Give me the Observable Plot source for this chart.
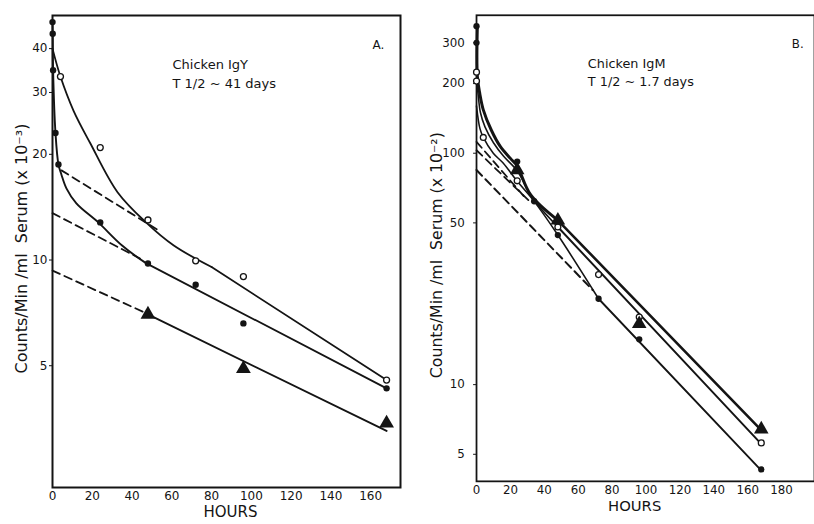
<!DOCTYPE html>
<html><head><meta charset="utf-8">
<script src="https://cdn.jsdelivr.net/npm/d3@7"></script>
<script src="https://cdn.jsdelivr.net/npm/@observablehq/plot@0.6"></script>
<style>
html,body{margin:0;padding:0;background:#fff;overflow:hidden;}
#wrap{position:relative;width:814px;height:524px;overflow:hidden;background:#fff;}
#a{position:absolute;left:0;top:0;}
#b{position:absolute;left:410px;top:0;}
</style></head><body><div id="wrap"><div id="a"></div><div id="b"></div></div>
<script>
// ---------- Panel A: Chicken IgY (counts/min/ml serum x 10^-3) ----------
const xTicksA = [0, 20, 40, 60, 80, 100, 120, 140, 160];
const yTicksA = [5, 10, 20, 30, 40];

const aOpenHours = [4, 24, 48, 72, 96, 168];
const aOpenCpm = [33.3, 20.9, 13.0, 9.95, 8.97, 4.55];
const aFilledHours = [0, 0.1, 0.3, 1.5, 3, 24, 48, 72, 96, 168];
const aFilledCpm = [47.6, 44.1, 34.7, 23.0, 18.7, 12.8, 9.77, 8.5, 6.6, 4.31];
const aTriHours = [48, 96, 168];
const aTriCpm = [7.0, 4.9, 3.43];

// fitted curves
const aOpenFitHours = [0, 4, 10.6, 19, 32.7, 47, 61, 80];
const aOpenFitCpm = [40, 33.3, 26.6, 21.5, 15.6, 12.8, 11.0, 9.55];
const aOpenLineHours = [80, 168];
const aOpenLineCpm = [9.55, 4.55];
const aFilledFitHours = [0, 0.1, 0.3, 1.5, 3, 4.5, 7, 12, 23, 35, 47];
const aFilledFitCpm = [47.6, 44.1, 34.7, 23.0, 18.7, 17.5, 16.0, 14.5, 12.8, 11.0, 9.8];
const aFilledLineHours = [47, 168];
const aFilledLineCpm = [9.8, 4.31];
const aTriLineHours = [48, 168];
const aTriLineCpm = [7.0, 3.26];
// dashed extrapolations
const aOpenDashHours = [4.5, 52.8];
const aOpenDashCpm = [18.0, 12.2];
const aFilledDashHours = [0, 44];
const aFilledDashCpm = [13.6, 10.1];
const aTriDashHours = [0, 47];
const aTriDashCpm = [9.33, 7.06];

// ---------- Panel B: Chicken IgM (counts/min/ml serum x 10^-2) ----------
const xTicksB = [0, 20, 40, 60, 80, 100, 120, 140, 160, 180];
const yTicksB = [5, 10, 50, 100, 200, 300];

const bOpenHours = [0, 0, 4, 24, 48, 72, 96, 168];
const bOpenCpm = [224, 205, 117, 76, 48, 29.9, 19.6, 5.6];
const bFilledHours = [0, 0, 24, 34, 48, 72, 96, 168];
const bFilledCpm = [354, 300, 92, 62, 44.3, 23.5, 15.7, 4.3];
const bTriHours = [24, 48, 96, 168];
const bTriCpm = [84.6, 51.3, 18.3, 6.42];

const bThickFitHours = [0.5, 0.5, 2, 4, 8.7, 14, 20, 24, 32, 48];
const bThickFitCpm = [354, 215, 180, 154, 126, 107, 95, 88, 66, 51.3];
const bThickLineHours = [48, 167.4];
const bThickLineCpm = [51.3, 6.42];
const bMidFitHours = [0, 1, 2.3, 5, 10, 16, 24, 33, 48];
const bMidFitCpm = [206, 178, 150, 130, 111, 97, 84, 64, 48];
const bMidLineHours = [48, 167.4];
const bMidLineCpm = [48, 5.6];
const bLowFitHours = [0, 2, 4, 9.9, 15.7, 23.3, 33.7, 48, 72];
const bLowFitCpm = [160, 128, 117, 100, 90.7, 76.8, 62.4, 44.3, 23.5];
const bLowLineHours = [72, 167.4];
const bLowLineCpm = [23.5, 4.3];
const bDash1Hours = [0, 29.7];
const bDash1Cpm = [112, 63];
const bDash2Hours = [0, 32];
const bDash2Cpm = [103, 61.3];
const bDash3Hours = [0, 68.6];
const bDash3Cpm = [84.6, 25.6];

const pts = (hs, vs) => hs.map((h, i) => ({h, v: vs[i]}));
const font = "DejaVu Sans, sans-serif";
const ink = "#141414";
const dash = "8,5";

function solid(hs, vs, w, curve) {
  return Plot.line(pts(hs, vs), {x: "h", y: "v", stroke: ink, strokeWidth: w, curve: curve || "linear"});
}
function dashed(hs, vs, w) {
  return Plot.line(pts(hs, vs), {x: "h", y: "v", stroke: ink, strokeWidth: w, strokeDasharray: dash});
}
function openDots(hs, vs) {
  return Plot.dot(pts(hs, vs), {x: "h", y: "v", r: 3, fill: "white", stroke: ink, strokeWidth: 1.3});
}
function filledDots(hs, vs) {
  return Plot.dot(pts(hs, vs), {x: "h", y: "v", r: 3.2, fill: ink, stroke: "none"});
}
function triDots(hs, vs) {
  return Plot.dot(pts(hs, vs), {x: "h", y: "v", r: 5.5, symbol: "triangle", fill: ink, stroke: "none"});
}
function txt(s, opts) {
  return Plot.text([s], Object.assign({text: d => d, fill: ink, fontFamily: font, frameAnchor: "top-left", textAnchor: "start", lineAnchor: "top"}, opts));
}
function yLabel(s, dx, dy) {
  return Plot.text([s], {text: d => d, frameAnchor: "left", textAnchor: "middle", lineAnchor: "middle", dx, dy, rotate: -90, fontSize: 16, fill: ink, fontFamily: font});
}
function xLabel(s, dx) {
  return Plot.text([s], {text: d => d, frameAnchor: "bottom", textAnchor: "middle", lineAnchor: "middle", dx, dy: 25, fontSize: 15, fill: ink, fontFamily: font});
}

const chartA = Plot.plot({
  width: 410, height: 524,
  marginLeft: 52, marginRight: 10, marginTop: 15, marginBottom: 37,
  style: {fontFamily: font, fontSize: "12px", color: ink, background: "white"},
  x: {domain: [0, 175]},
  y: {type: "log", domain: [2.25, 49.7]},
  marks: [
    Plot.axisX({ticks: xTicksA, tickSize: 0, tickPadding: 4, label: null, fontSize: 12}),
    Plot.axisY({ticks: yTicksA, tickFormat: d => String(d), tickSize: 3, tickPadding: 2, label: null, fontSize: 12}),
    Plot.frame({stroke: ink, strokeWidth: 2}),
    dashed(aOpenDashHours, aOpenDashCpm, 1.8),
    dashed(aFilledDashHours, aFilledDashCpm, 1.8),
    dashed(aTriDashHours, aTriDashCpm, 1.8),
    solid(aOpenFitHours, aOpenFitCpm, 1.8, "catmull-rom"),
    solid(aOpenLineHours, aOpenLineCpm, 1.8),
    solid(aFilledFitHours, aFilledFitCpm, 1.9, "catmull-rom"),
    solid(aFilledLineHours, aFilledLineCpm, 1.8),
    solid(aTriLineHours, aTriLineCpm, 1.9),
    openDots(aOpenHours, aOpenCpm),
    filledDots(aFilledHours, aFilledCpm),
    triDots(aTriHours, aTriCpm),
    txt("Chicken IgY", {dx: 120, dy: 44, fontSize: 13}),
    txt("T 1/2 ~ 41 days", {dx: 120, dy: 63, fontSize: 13}),
    txt("A.", {dx: 320, dy: 25, fontSize: 12}),
    yLabel("Counts/Min /ml  Serum (x 10⁻³)", -31, -3),
    xLabel("HOURS", 4)
  ]
});

const chartB = Plot.plot({
  width: 410, height: 524,
  marginLeft: 67, marginRight: 0, marginTop: 15, marginBottom: 36,
  style: {fontFamily: font, fontSize: "12px", color: ink, background: "white"},
  x: {domain: [0, 199.4]},
  y: {type: "log", domain: [3.82, 394.6]},
  marks: [
    Plot.axisX({ticks: xTicksB, tickSize: 0, tickPadding: 4, label: null, fontSize: 12}),
    Plot.axisY({ticks: yTicksB, tickFormat: d => String(d), tickSize: 3, tickPadding: 9, label: null, fontSize: 12}),
    Plot.frame({stroke: ink, strokeWidth: 1.8}),
    dashed(bDash1Hours, bDash1Cpm, 1.8),
    dashed(bDash2Hours, bDash2Cpm, 1.8),
    dashed(bDash3Hours, bDash3Cpm, 2),
    solid(bThickFitHours, bThickFitCpm, 3, "catmull-rom"),
    solid(bThickLineHours, bThickLineCpm, 2.6),
    solid(bMidFitHours, bMidFitCpm, 1.6, "catmull-rom"),
    solid(bMidLineHours, bMidLineCpm, 2),
    solid(bLowFitHours, bLowFitCpm, 1.6, "catmull-rom"),
    solid(bLowLineHours, bLowLineCpm, 1.9),
    openDots(bOpenHours, bOpenCpm),
    filledDots(bFilledHours, bFilledCpm),
    triDots(bTriHours, bTriCpm),
    txt("Chicken IgM", {dx: 113, dy: 44, fontSize: 13}),
    txt("T 1/2 ~ 1.7 days", {dx: 113, dy: 63, fontSize: 13}),
    txt("B.", {dx: 320, dy: 25, fontSize: 12}),
    yLabel("Counts/Min /ml  Serum (x 10⁻²)", -40, 7),
    xLabel("HOURS", -11)
  ]
});

document.getElementById("a").appendChild(chartA);
document.getElementById("b").appendChild(chartB);
</script>
</body></html>
